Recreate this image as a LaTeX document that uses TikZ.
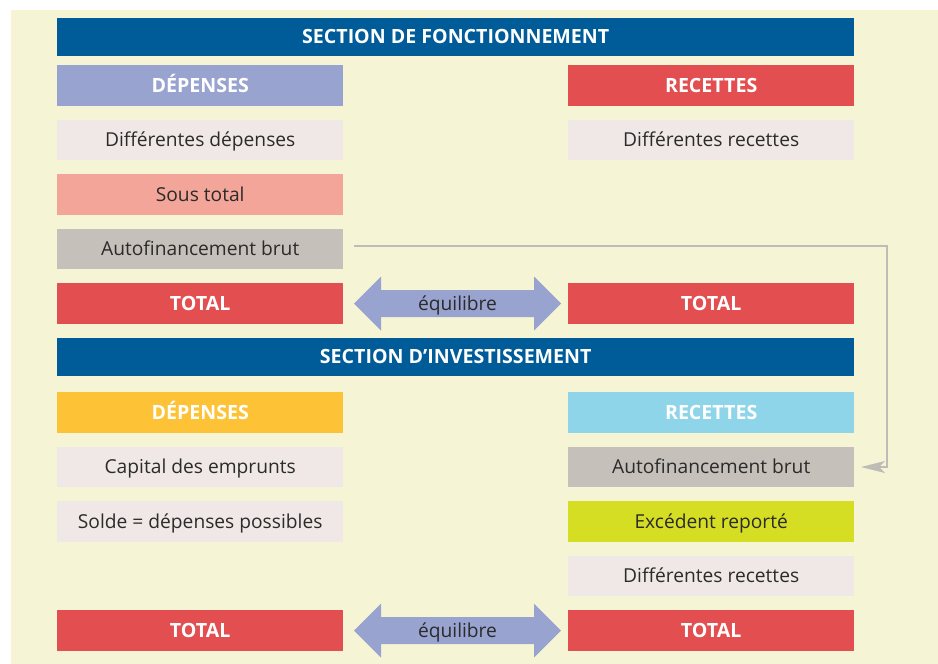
\documentclass[tikz,border=0pt]{standalone}
\usepackage{fontspec}
\setmainfont{Open Sans}
\usetikzlibrary{arrows.meta}
\definecolor{bgcream}{HTML}{F5F5D6}
\definecolor{hdrblue}{HTML}{005B99}
\definecolor{lavender}{HTML}{99A3D0}
\definecolor{redbox}{HTML}{E34F50}
\definecolor{lightbox}{HTML}{EFE8E6}
\definecolor{salmon}{HTML}{F2A598}
\definecolor{greybox}{HTML}{C5C0BA}
\definecolor{orangebox}{HTML}{FDC236}
\definecolor{cyanbox}{HTML}{8FD5EA}
\definecolor{limebox}{HTML}{D6DE23}
\definecolor{conncol}{HTML}{BDBCB6}
\definecolor{textdark}{HTML}{2B2B2B}
\tikzset{
  cell/.style={anchor=north west, minimum width=286pt, minimum height=40.5pt, inner sep=0pt, text height=18.5pt, text depth=4.5pt, font=\fontsize{19.2}{21}\selectfont, text=textdark},
  headcell/.style={cell, text=white, font=\fontsize{19.6}{21}\selectfont\bfseries},
  banner/.style={anchor=north west, minimum width=797pt, minimum height=38.5pt, inner sep=0pt, text height=18.5pt, text depth=4.5pt, fill=hdrblue, text=white, font=\fontsize{19.6}{21}\selectfont\bfseries},
  conn/.style={draw=conncol, line width=1.5pt, -{Stealth[length=24pt,width=12pt,inset=6pt]}},
  eqtext/.style={inner sep=0pt, text height=18.5pt, text depth=4.5pt, font=\fontsize{19.2}{21}\selectfont, text=textdark}
}
\begin{document}
\begin{tikzpicture}[x=1pt,y=1pt]
\useasboundingbox (0,0) rectangle (938,-664);
\fill[bgcream] (11,-10) rectangle (938,-664);
% Section de fonctionnement
\node[banner] (h1) at (57,-17.5) {SECTION DE FONCTIONNEMENT};
\node[headcell, fill=lavender] (fd) at (57,-65) {DÉPENSES};
\node[headcell, fill=redbox] (fr) at (568,-65) {RECETTES};
\node[cell, fill=lightbox] (fdd) at (57,-119.5) {Différentes dépenses};
\node[cell, fill=lightbox] (frr) at (568,-119.5) {Différentes recettes};
\node[cell, fill=salmon] (fst) at (57,-174) {Sous total};
\node[cell, fill=greybox] (fab) at (57,-228.5) {Autofinancement brut};
\node[headcell, fill=redbox] (ftl) at (57,-283) {TOTAL};
\node[headcell, fill=redbox] (ftr) at (568,-283) {TOTAL};
% equilibre arrow 1
\fill[lavender] (354,-303.5) -- (381,-276.5) -- (381,-290) -- (534,-290) -- (534,-276.5) -- (561,-303.5) -- (534,-330.5) -- (534,-317) -- (381,-317) -- (381,-330.5) -- cycle;
\node[eqtext] (eq1) at (457.5,-303.5) {équilibre};
% Section d'investissement
\node[banner] (h2) at (57,-337.5) {SECTION D’INVESTISSEMENT};
\node[headcell, fill=orangebox] (id) at (57,-392) {DÉPENSES};
\node[headcell, fill=cyanbox] (ir) at (568,-392) {RECETTES};
\node[cell, fill=lightbox] (icap) at (57,-446.5) {Capital des emprunts};
\node[cell, fill=greybox] (iab) at (568,-446.5) {Autofinancement brut};
\node[cell, fill=lightbox] (isol) at (57,-501) {Solde = dépenses possibles};
\node[cell, fill=limebox] (iexc) at (568,-501) {Excédent reporté};
\node[cell, fill=lightbox] (idr) at (568,-555.5) {Différentes recettes};
\node[headcell, fill=redbox] (itl) at (57,-610) {TOTAL};
\node[headcell, fill=redbox] (itr) at (568,-610) {TOTAL};
% equilibre arrow 2
\fill[lavender] (354,-630.5) -- (381,-603.5) -- (381,-617) -- (534,-617) -- (534,-603.5) -- (561,-630.5) -- (534,-657.5) -- (534,-644) -- (381,-644) -- (381,-657.5) -- cycle;
\node[eqtext] (eq2) at (457.5,-630.5) {équilibre};
% connector
\coordinate (cs) at (354,-246);
\coordinate (ce) at (861,-467);
\draw[conn] (cs) -- (887,-246) |- (ce);
\end{tikzpicture}
\end{document}
